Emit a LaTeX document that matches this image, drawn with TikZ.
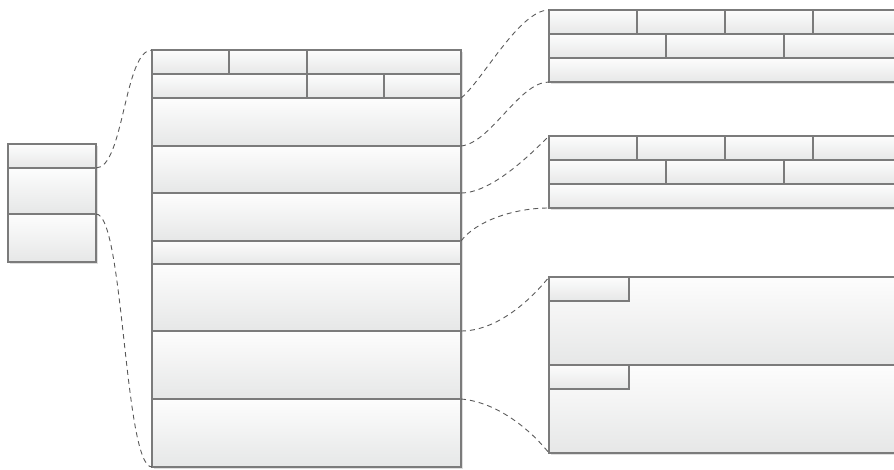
\documentclass[tikz,border=0pt]{standalone}
\usetikzlibrary{shadows}
\definecolor{edgeC}{HTML}{7B7B7B}
\definecolor{dashC}{HTML}{5A5A5A}
\definecolor{topC}{HTML}{FDFDFD}
\definecolor{botC}{HTML}{E6E7E7}
\tikzset{
  cell/.style={draw=edgeC,line width=1.2pt,top color=topC,bottom color=botC,
    anchor=north west,inner sep=0pt,outer sep=0pt},
  frame/.style={draw=edgeC,line width=1.2pt,fill=white,anchor=north west,inner sep=0pt,
    outer sep=0pt,drop shadow={shadow xshift=1.8pt,shadow yshift=-1.8pt,opacity=0.25}},
  sz/.style 2 args={minimum width=#1pt,minimum height=#2pt},
  zoomln/.style={draw=dashC,dash pattern=on 5pt off 4pt,line width=0.9pt}}
\begin{document}
\begin{tikzpicture}[x=1pt,y=-1pt]
\useasboundingbox (0,0) rectangle (894,470);
\clip (0,0) rectangle (894,470);
\node[frame,sz={88}{118}] (leftbox) at (8,144) {};
\node[cell,sz={88}{24}] (L1) at (8,144) {};
\node[cell,sz={88}{46}] (L2) at (8,168) {};
\node[cell,sz={88}{48}] (L3) at (8,214) {};
\node[frame,sz={309}{417}] (midbox) at (152,50) {};
\node[cell,sz={77}{24}] (M1a) at (152,50) {};
\node[cell,sz={78}{24}] (M1b) at (229,50) {};
\node[cell,sz={154}{24}] (M1c) at (307,50) {};
\node[cell,sz={155}{24}] (M2a) at (152,74) {};
\node[cell,sz={77}{24}] (M2b) at (307,74) {};
\node[cell,sz={77}{24}] (M2c) at (384,74) {};
\node[cell,sz={309}{48}] (M3) at (152,98) {};
\node[cell,sz={309}{47}] (M4) at (152,146) {};
\node[cell,sz={309}{48}] (M5) at (152,193) {};
\node[cell,sz={309}{23}] (M6) at (152,241) {};
\node[cell,sz={309}{67}] (M7) at (152,264) {};
\node[cell,sz={309}{68}] (M8) at (152,331) {};
\node[cell,sz={309}{68}] (M9) at (152,399) {};
\node[frame,sz={352}{72}] (boxA) at (549,10) {};
\node[cell,sz={88}{24}] (A1a) at (549,10) {};
\node[cell,sz={88}{24}] (A1b) at (637,10) {};
\node[cell,sz={88}{24}] (A1c) at (725,10) {};
\node[cell,sz={88}{24}] (A1d) at (813,10) {};
\node[cell,sz={117}{24}] (A2a) at (549,34) {};
\node[cell,sz={118}{24}] (A2b) at (666,34) {};
\node[cell,sz={117}{24}] (A2c) at (784,34) {};
\node[cell,sz={352}{24}] (A3) at (549,58) {};
\node[frame,sz={352}{72}] (boxB) at (549,136) {};
\node[cell,sz={88}{24}] (B1a) at (549,136) {};
\node[cell,sz={88}{24}] (B1b) at (637,136) {};
\node[cell,sz={88}{24}] (B1c) at (725,136) {};
\node[cell,sz={88}{24}] (B1d) at (813,136) {};
\node[cell,sz={117}{24}] (B2a) at (549,160) {};
\node[cell,sz={118}{24}] (B2b) at (666,160) {};
\node[cell,sz={117}{24}] (B2c) at (784,160) {};
\node[cell,sz={352}{24}] (B3) at (549,184) {};
\node[frame,sz={352}{176}] (boxC) at (549,277) {};
\node[cell,sz={352}{88}] (C1) at (549,277) {};
\node[cell,sz={80}{24}] (C1t) at (549,277) {};
\node[cell,sz={352}{88}] (C2) at (549,365) {};
\node[cell,sz={80}{24}] (C2t) at (549,365) {};
\draw[zoomln] (L1.south east) .. controls +(28,0) and +(-28,0) .. (M1a.north west);
\draw[zoomln] (L2.south east) .. controls +(28,0) and +(-28,0) .. (M9.south west);
\draw[zoomln] (M3.north east) .. controls +(20,-15) and +(-30,0) .. (A1a.north west);
\draw[zoomln] (M4.north east) .. controls +(30,-3) and +(-30,0) .. (A3.south west);
\draw[zoomln] (M5.north east) .. controls +(30,0) and +(-20,20) .. (B1a.north west);
\draw[zoomln] (M6.north east) .. controls +(15,-20) and +(-35,0) .. (B3.south west);
\draw[zoomln] (M8.north east) .. controls +(35,0) and +(-20,25) .. (C1.north west);
\draw[zoomln] (M9.north east) .. controls +(35,3) and +(-20,-25) .. (C2.south west);
\end{tikzpicture}
\end{document}
